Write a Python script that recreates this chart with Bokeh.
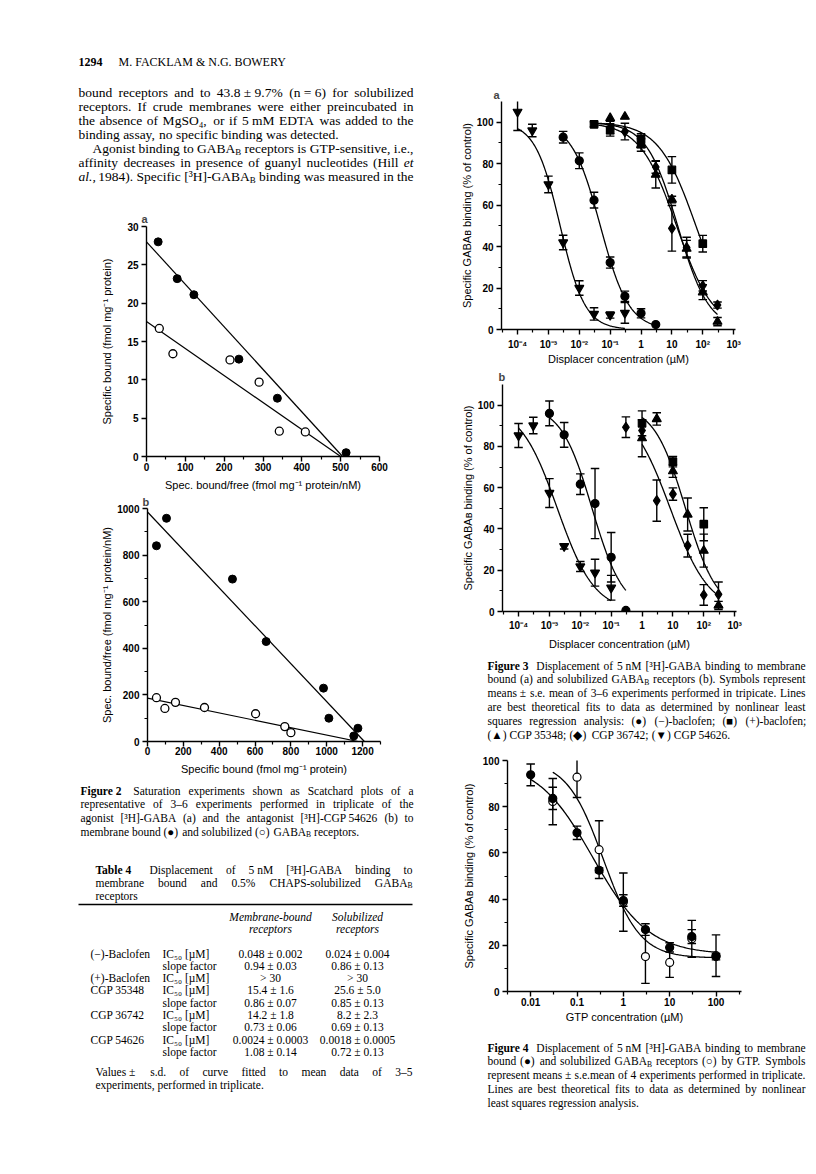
import numpy as np
from bokeh.plotting import figure
from bokeh.layouts import row, column
from bokeh.models import Range1d, FixedTicker, Spacer
from bokeh.core.properties import value
from bokeh.embed import file_html
from bokeh.resources import INLINE

SERIF = "Liberation Serif"
SANS = "Liberation Sans"

# ---------------------------------------------------------------- data
# Figure 2a: [3H]-GABA Scatchard (x = spec. bound/free, y = specific bound)
f2a_mem_free = [30, 79, 122, 238, 337, 514]
f2a_mem_bound = [28.0, 23.2, 21.1, 12.7, 7.6, 0.5]
f2a_sol_free = [33, 68, 215, 290, 342, 409]
f2a_sol_bound = [16.7, 13.4, 12.6, 9.7, 3.3, 3.2]
f2a_mem_line = [28.0, 505]      # [y-intercept, x-intercept]
f2a_sol_line = [17.6, 500]
f2a_xticks = [0, 100, 200, 300, 400, 500, 600]
f2a_xminor = [50, 150, 250, 350, 450, 550]
f2a_yticks = [0, 5, 10, 15, 20, 25, 30]

# Figure 2b: [3H]-CGP 54626 Scatchard (x = specific bound, y = bound/free)
f2b_mem_bound = [50, 106, 474, 662, 982, 1012, 1151, 1174]
f2b_mem_ratio = [840, 958, 697, 429, 229, 100, 24, 57]
f2b_sol_bound = [50, 97, 156, 318, 603, 766, 800]
f2b_sol_ratio = [188, 142, 168, 146, 119, 64, 38]
f2b_mem_line = [985, 1210]
f2b_sol_line = [186, 1175]
f2b_xticks = [0, 200, 400, 600, 800, 1000, 1200]
f2b_xminor = [100, 300, 500, 700, 900, 1100, 1300]
f2b_yticks = [0, 200, 400, 600, 800, 1000]
f2b_yminor = [100, 300, 500, 700, 900]

# Figure 3 (concentrations in uM, binding in % of control)
f3_xticks = [1e-4, 1e-3, 1e-2, 1e-1, 1, 10, 100, 1000]
f3_xlabels = ["10⁻⁴", "10⁻³", "10⁻²", "10⁻¹", "1", "10", "10²", "10³"]
f3_xminor = [10 ** -4.5, 10 ** -3.5, 10 ** -2.5, 10 ** -1.5, 10 ** -0.5, 10 ** 0.5, 10 ** 1.5, 10 ** 2.5]
f3_yticks = [0, 20, 40, 60, 80, 100]
f3_yminor = [10, 30, 50, 70, 90]

# 3a membrane bound
f3a_bac_x = [0.003, 0.01, 0.03, 0.1, 0.3, 1, 3]
f3a_bac_y = [92.8, 81.4, 62.4, 32.3, 16.0, 7.8, 2.4]
f3a_bac_e = [2.8, 3.8, 3.8, 2.7, 2.5, 2.2, 0]
f3a_plus_x = [0.03, 0.1, 1, 10, 100]
f3a_plus_y = [99, 96.3, 91.5, 77, 41.4]
f3a_plus_e = [1.2, 3, 3, 6.4, 4]
f3a_c35_x = [0.1, 0.3, 1, 3, 10, 30, 100, 300]
f3a_c35_y = [102, 102.7, 89, 74.7, 62.7, 39, 18, 3.8]
f3a_c35_e = [0, 0, 3, 6.4, 1.6, 4, 3.6, 2]
f3a_c36_x = [0.1, 0.3, 1, 3, 10, 30, 100, 300]
f3a_c36_y = [97.4, 95.5, 90.7, 78.4, 48.8, 39.5, 21.1, 11.8]
f3a_c36_e = [3, 4, 3, 3, 11, 5, 2.5, 1.5]
f3a_c54_x = [0.0001, 0.0003, 0.001, 0.003, 0.01, 0.03, 0.1, 0.3]
f3a_c54_y = [105, 96, 70, 42, 20, 7.5, 7, 8]
f3a_c54_e = [9, 3, 4, 3.5, 3.5, 3, 1.5, 5]

# 3b solubilized
f3b_bac_x = [0.001, 0.003, 0.01, 0.03, 0.1, 0.3]
f3b_bac_y = [96, 85.6, 61.7, 52.3, 26.3, 0.5]
f3b_bac_e = [6, 6, 5, 17, 12, 0]
f3b_plus_x = [1, 10, 100]
f3b_plus_y = [91.2, 72.6, 42.3]
f3b_plus_e = [6, 2.5, 8]
f3b_c35_x = [1, 3, 10, 30, 100, 300]
f3b_c35_y = [84, 93.3, 68, 47, 29.5, 2.9]
f3b_c35_e = [9, 3, 3, 8, 8, 2]
f3b_c36_x = [0.3, 1, 3, 10, 30, 100, 300]
f3b_c36_y = [89.3, 87.7, 53.7, 56.9, 31.9, 8, 8.3]
f3b_c36_e = [5, 0, 10, 3, 5.5, 5, 6]
f3b_c54_x = [0.0001, 0.0003, 0.001, 0.003, 0.01, 0.03, 0.1]
f3b_c54_y = [85.3, 90.1, 57.4, 31.6, 21.8, 18.8, 11.5]
f3b_c54_e = [5.8, 4, 7, 1.3, 2.4, 6.5, 6]

# fitted curves: [IC50 (uM), slope factor] (from Table 4; (+)-baclofen estimated) and drawn span
f3a_bac_fit, f3a_bac_span = [0.048, 0.94], [0.003, 3]
f3a_plus_fit, f3a_plus_span = [60.0, 0.72], [0.03, 100]
f3a_c35_fit, f3a_c35_span = [15.4, 0.86], [0.03, 300]
f3a_c36_fit, f3a_c36_span = [14.2, 0.73], [0.03, 300]
f3a_c54_fit, f3a_c54_span = [0.0024, 1.08], [0.0001, 0.3]
f3b_bac_fit, f3b_bac_span = [0.024, 0.86], [0.001, 0.3]
f3b_c35_fit, f3b_c35_span = [25.6, 0.85], [1, 300]
f3b_c36_fit, f3b_c36_span = [8.2, 0.69], [1, 300]
f3b_c54_fit, f3b_c54_span = [0.0018, 0.72], [0.0001, 0.1]

# Figure 4: GTP displacement
f4_xticks = [0.01, 0.1, 1, 10, 100]
f4_xlabels = ["0.01", "0.1", "1", "10", "100"]
f4_xminor = [10 ** -2.5, 10 ** -1.5, 10 ** -0.5, 10 ** 0.5, 10 ** 1.5, 10 ** 2.5]
f4_yticks = [0, 20, 40, 60, 80, 100]
f4_yminor = [10, 30, 50, 70, 90]
f4_mem_x = [0.01, 0.03, 0.1, 0.3, 1, 3, 10, 30, 100]
f4_mem_y = [93.8, 83.6, 68.7, 52.5, 39.4, 26.8, 19.1, 23.8, 15.1]
f4_mem_e = [4.7, 4.8, 2.9, 1.0, 2.5, 2.5, 2.0, 3.0, 1.4]
f4_sol_x = [0.03, 0.1, 0.3, 1, 3, 10, 30, 100]
f4_sol_y = [82.2, 92.8, 61.4, 38.7, 15.1, 12.6, 22.8, 15.5]
f4_sol_e = [10, 8.8, 12.5, 12.6, 11.6, 6.5, 8, 9]
f4_mem_fit, f4_mem_span = [0.22, 0.72, 100, 16], [0.01, 100]   # IC50, slope, top, bottom
f4_sol_fit, f4_sol_span = [0.37, 1.1, 100, 14.5], [0.03, 100]

# Table 4
tbl_compound = ["(−)-Baclofen", "", "(+)-Baclofen", "CGP 35348", "", "CGP 36742", "", "CGP 54626", ""]
tbl_param = ["IC₅₀ [µM]", "slope factor", "IC₅₀ [µM]", "IC₅₀ [µM]", "slope factor",
             "IC₅₀ [µM]", "slope factor", "IC₅₀ [µM]", "slope factor"]
tbl_membrane = ["0.048 ± 0.002", "0.94 ± 0.03", "> 30", "15.4 ± 1.6", "0.86 ± 0.07",
                "14.2 ± 1.8", "0.73 ± 0.06", "0.0024 ± 0.0003", "1.08 ± 0.14"]
tbl_solubilized = ["0.024 ± 0.004", "0.86 ± 0.13", "> 30", "25.6 ± 5.0", "0.85 ± 0.13",
                   "8.2 ± 2.3", "0.69 ± 0.13", "0.0018 ± 0.0005", "0.72 ± 0.13"]

# ---------------------------------------------------------------- texts
body_lines = [
    "bound receptors and to 43.8~±~9.7% (n~=~6) for solubilized",
    "receptors. If crude membranes were either preincubated in",
    "the absence of MgSO₄, or if 5~mM EDTA was added to the",
    "binding assay, no specific binding was detected.",
    "Agonist binding to GABA_B receptors is GTP-sensitive, i.e.,",
    "affinity decreases in presence of guanyl nucleotides (Hill /et",
    "/al., 1984). Specific [³H]-GABA_B binding was measured in the",
]
fig2_caption = [
    "*Figure~2 Saturation experiments shown as Scatchard plots of a",
    "representative of 3–6 experiments performed in triplicate of the",
    "agonist [³H]-GABA (a) and the antagonist [³H]-CGP~54626 (b) to",
    "membrane bound (●) and solubilized (○) GABA_B receptors.",
]
table_title = [
    "*Table~4 Displacement of 5~nM [³H]-GABA binding to",
    "membrane bound and 0.5% CHAPS-solubilized GABA_B",
    "receptors",
]
table_note = [
    "Values~± s.d. of curve fitted to mean data of 3–5",
    "experiments, performed in triplicate.",
]
fig3_caption = [
    "*Figure~3 Displacement of 5~nM [³H]-GABA binding to membrane",
    "bound (a) and solubilized GABA_B receptors (b). Symbols represent",
    "means~± s.e. mean of 3–6 experiments performed in tripicate. Lines",
    "are best theoretical fits to data as determined by nonlinear least",
    "squares regression analysis: (●) (−)-baclofen; (■) (+)-baclofen;",
    "(▲) CGP~35348; (◆) CGP~36742; (▼) CGP~54626.",
]
fig4_caption = [
    "*Figure~4 Displacement of 5~nM [³H]-GABA binding to membrane",
    "bound (●) and solubilized GABA_B receptors (○) by GTP. Symbols",
    "represent means~± s.e.mean of 4 experiments performed in triplicate.",
    "Lines are best theoretical fits to data as determined by nonlinear",
    "least squares regression analysis.",
]

# ---------------------------------------------------------------- text helpers
TW = dict(zip("abcdefghijklmnopqrstuvwxyz",
              [444, 500, 444, 500, 444, 333, 500, 500, 278, 278, 500, 278, 778, 500, 500, 500, 500,
               333, 389, 278, 500, 500, 722, 500, 500, 444]))
TW.update(zip("ABCDEFGHIJKLMNOPQRSTUVWXYZ",
              [722, 667, 667, 722, 611, 556, 722, 722, 333, 389, 722, 611, 889, 722, 722, 556, 722,
               667, 556, 611, 722, 722, 944, 722, 722, 611]))
TW.update({c: 500 for c in "0123456789"})
TW.update({" ": 250, ".": 250, ",": 250, ":": 278, ";": 278, "(": 333, ")": 333, "[": 333, "]": 333,
           "-": 333, "%": 833, "±": 564, "=": 564, ">": 564, "/": 278, "–": 500, "−": 564, "³": 300,
           "µ": 500, "'": 333, "&": 778, "●": 700, "○": 700, "■": 700, "▲": 1000, "◆": 1000, "▼": 1000})

BODY = 13.5
SMALL = 11.5


def tw(s, size, style="normal"):
    w = sum(TW.get(c, 500) for c in s) / 1000.0 * size
    return w * (1.06 if style == "bold" else 1.0)


class Texts:
    def __init__(self, p, ox, oy):
        self.p, self.ox, self.oy, self.groups = p, ox, oy, {}

    def add(self, x, y, s, size, style="normal", font=SERIF, align="left"):
        g = self.groups.setdefault((font, size, style, align), ([], [], []))
        g[0].append(x - self.ox)
        g[1].append(y - self.oy)
        g[2].append(s)

    def line(self, text, x0, x1, y, size, justify=True):
        items = []
        for t in text.split():
            style, extra = "normal", 0.0
            if t.startswith("*"):
                style, t, extra = "bold", t[1:], 0.35 * size
            elif t.startswith("/"):
                style, t = "italic", t[1:]
            t = t.replace("~", " ")
            if "_B" in t:
                pre, post = t.split("_B", 1)
                parts = [(pre, 1.0, 0.0), ("B", 0.66, 0.28), (post, 1.0, 0.0)]
            else:
                parts = [(t, 1.0, 0.0)]
            w = sum(tw(s, size * f, style) for s, f, _ in parts)
            items.append((parts, style, w, extra))
        total = sum(w + e for _, _, w, e in items)
        if justify and len(items) > 1:
            gap = max((x1 - x0 - total) / (len(items) - 1), 0.15 * size)
        else:
            gap = 0.25 * size
        x = x0
        for parts, style, w, extra in items:
            xx = x
            for s, f, dy in parts:
                if s:
                    self.add(xx, y + dy * size, s, round(size * f, 2), style)
                xx += tw(s, size * f, style)
            x += w + extra + gap

    def flush(self):
        for (font, size, style, align), (xs, ys, ts) in self.groups.items():
            self.p.text(x=xs, y=ys, text=ts, text_font=value(font), text_font_size=value(f"{size}px"),
                        text_font_style=value(style), text_align=value(align),
                        text_baseline=value("middle"), text_color="black")


def text_fig(w, h):
    p = figure(width=w, height=h, x_range=Range1d(0, w), y_range=Range1d(h, 0),
               x_axis_location=None, y_axis_location=None, min_border=0,
               output_backend="svg", toolbar_location=None)
    p.frame_align = False
    p.outline_line_color = None
    p.xgrid.visible = False
    p.ygrid.visible = False
    return p


def chart(w, h, xr, yr, borders, log=False, title=None, title_offset=0, title_standoff=2):
    l, r, t, b = borders
    p = figure(width=w, height=h, x_range=xr, y_range=yr, x_axis_type="log" if log else "linear",
               min_border_left=l, min_border_right=r, min_border_top=t, min_border_bottom=b,
               output_backend="svg", toolbar_location=None, title=title)
    p.frame_align = False
    p.outline_line_color = None
    p.xgrid.visible = False
    p.ygrid.visible = False
    for ax in (p.xaxis[0], p.yaxis[0]):
        ax.axis_line_width = 1.4
        ax.axis_line_color = "black"
        ax.major_tick_in = 0
        ax.major_tick_out = 5
        ax.major_tick_line_width = 1.4
        ax.major_tick_line_color = "black"
        ax.minor_tick_in = 0
        ax.minor_tick_out = 3
        ax.minor_tick_line_width = 1.2
        ax.minor_tick_line_color = "black"
        ax.major_label_text_font = SANS
        ax.major_label_text_font_size = "10px"
        ax.major_label_text_font_style = "bold"
        ax.major_label_text_color = "black"
        ax.axis_label_text_font = SANS
        ax.axis_label_text_font_size = "11px"
        ax.axis_label_text_font_style = "normal"
        ax.axis_label_text_color = "black"
    if title:
        p.title.text_font = SANS
        p.title.text_font_size = "11px"
        p.title.text_font_style = "bold"
        p.title.align = "left"
        p.title.offset = title_offset
        p.title.standoff = title_standoff
    return p


def hill(x, ic50, n, top=100.0, bottom=0.0):
    return bottom + (top - bottom) / (1.0 + (x / ic50) ** n)


def curve(p, fit, span):
    xs = np.logspace(np.log10(span[0]), np.log10(span[1]), 160)
    p.line(xs, hill(xs, *fit), line_color="black", line_width=1.3)


def points(p, xs, ys, es, marker, size, fill="black"):
    xs, ys, es = np.array(xs, float), np.array(ys, float), np.array(es, float)
    m = es > 0
    lo, hi = ys - es, ys + es
    p.segment(x0=xs[m], y0=lo[m], x1=xs[m], y1=hi[m], line_color="black", line_width=1.4)
    p.scatter(xs[m], lo[m], marker="dash", size=8.5, line_color="black", line_width=1.4)
    p.scatter(xs[m], hi[m], marker="dash", size=8.5, line_color="black", line_width=1.4)
    p.scatter(xs, ys, marker=marker, size=size, fill_color=fill, line_color="black", line_width=1.2)


# ---------------------------------------------------------------- left column
# block 1: running head + body text (page y 8..205)
t1 = text_fig(410, 197)
T = Texts(t1, 8, 8)
T.add(78, 61, "1294", 12, "bold")
T.add(118, 61, "M. FACKLAM & N.G. BOWERY", 12)
for i, ln in enumerate(body_lines):
    x0 = 92 if i == 4 else 78
    T.line(ln, x0, 413, 92 + 14 * i, BODY, justify=(i != 3))
T.flush()

# Figure 2a
f2a = chart(410, 288, Range1d(0, 600), Range1d(0, 30), (138, 39, 21, 36),
            title="a", title_offset=-5, title_standoff=3)
f2a.xaxis.ticker = FixedTicker(ticks=f2a_xticks, minor_ticks=f2a_xminor)
f2a.yaxis.ticker = FixedTicker(ticks=f2a_yticks)
f2a.xaxis.axis_label = "Spec. bound/free (fmol mg⁻¹ protein/nM)"
f2a.yaxis.axis_label = "Specific bound (fmol mg⁻¹ protein)"
f2a.xaxis.major_label_standoff = 1
f2a.xaxis.axis_label_standoff = 5
f2a.yaxis.major_label_standoff = 3
f2a.yaxis.axis_label_standoff = 11
f2a.line([0, f2a_mem_line[1]], [f2a_mem_line[0], 0], line_color="black", line_width=1.2)
f2a.line([0, f2a_sol_line[1]], [f2a_sol_line[0], 0], line_color="black", line_width=1.2)
f2a.scatter(f2a_sol_free, f2a_sol_bound, marker="circle", size=8, fill_color="white",
            line_color="black", line_width=1.3)
f2a.scatter(f2a_mem_free, f2a_mem_bound, marker="circle", size=8, fill_color="black", line_color="black")

# Figure 2b
f2b = chart(410, 287, Range1d(0, 1300), Range1d(0, 1000), (139, 38, 14, 39),
            title="b", title_offset=-5, title_standoff=1)
f2b.xaxis.ticker = FixedTicker(ticks=f2b_xticks, minor_ticks=f2b_xminor)
f2b.yaxis.ticker = FixedTicker(ticks=f2b_yticks, minor_ticks=f2b_yminor)
f2b.xaxis.axis_label = "Specific bound (fmol mg⁻¹ protein)"
f2b.yaxis.axis_label = "Spec. bound/free (fmol mg⁻¹ protein/nM)"
f2b.xaxis.major_label_standoff = 0
f2b.xaxis.axis_label_standoff = 5
f2b.yaxis.major_label_standoff = 3
f2b.yaxis.axis_label_standoff = 1
f2b.line([0, f2b_mem_line[1]], [f2b_mem_line[0], 0], line_color="black", line_width=1.2)
f2b.line([0, f2b_sol_line[1]], [f2b_sol_line[0], 0], line_color="black", line_width=1.2)
f2b.scatter(f2b_sol_bound, f2b_sol_ratio, marker="circle", size=8, fill_color="white",
            line_color="black", line_width=1.3)
f2b.scatter(f2b_mem_bound, f2b_mem_ratio, marker="circle", size=8, fill_color="black", line_color="black")

# block 2: Figure 2 caption + Table 4 (page y 780..1166)
t2 = text_fig(410, 386)
T = Texts(t2, 8, 780)
for i, ln in enumerate(fig2_caption):
    T.line(ln, 80, 413, 790 + 13.7 * i, SMALL, justify=(i != len(fig2_caption) - 1))
for i, ln in enumerate(table_title):
    T.line(ln, 95, 412, 869 + 13 * i, SMALL, justify=(i != len(table_title) - 1))
t2.segment(x0=[78 - 8], y0=[904 - 780], x1=[412 - 8], y1=[904 - 780], line_color="black", line_width=1.3)
for xc, (h1, h2) in ((270, ("Membrane-bound", "receptors")), (357, ("Solubilized", "receptors"))):
    T.add(xc, 916, h1, SMALL, "italic", align="center")
    T.add(xc, 928, h2, SMALL, "italic", align="center")
for i in range(len(tbl_param)):
    y = 953 + 12.3 * i
    if tbl_compound[i]:
        T.add(90, y, tbl_compound[i], SMALL)
    T.add(162, y, tbl_param[i], SMALL)
    T.add(270, y, tbl_membrane[i], SMALL, align="center")
    T.add(357, y, tbl_solubilized[i], SMALL, align="center")
for i, ln in enumerate(table_note):
    T.line(ln, 95, 412, 1071 + 13 * i, SMALL, justify=(i == 0))
T.flush()

# ---------------------------------------------------------------- right column
def fig3_axes(p):
    p.xaxis.ticker = FixedTicker(ticks=f3_xticks, minor_ticks=f3_xminor)
    p.xaxis.major_label_overrides = dict(zip(f3_xticks, f3_xlabels))
    p.yaxis.ticker = FixedTicker(ticks=f3_yticks, minor_ticks=f3_yminor)
    p.xaxis.axis_label = "Displacer concentration (µM)"
    p.yaxis.axis_label = "Specific GABAʙ binding (% of control)"
    p.yaxis.major_label_standoff = 3
    p.yaxis.axis_label_standoff = 1


f3a = chart(390, 359, Range1d(10 ** -4.52, 10 ** 3.06), Range1d(0, 110), (83, 73, 93, 36), log=True,
            title="a", title_offset=-8, title_standoff=2)
fig3_axes(f3a)
f3a.xaxis.major_label_standoff = 4
f3a.xaxis.axis_label_standoff = 0
for fit, span in ((f3a_bac_fit, f3a_bac_span), (f3a_plus_fit, f3a_plus_span), (f3a_c35_fit, f3a_c35_span),
                  (f3a_c36_fit, f3a_c36_span), (f3a_c54_fit, f3a_c54_span)):
    curve(f3a, fit, span)
points(f3a, f3a_c54_x, f3a_c54_y, f3a_c54_e, "inverted_triangle", 9)
points(f3a, f3a_bac_x, f3a_bac_y, f3a_bac_e, "circle", 8)
points(f3a, f3a_c35_x, f3a_c35_y, f3a_c35_e, "triangle", 9)
points(f3a, f3a_c36_x, f3a_c36_y, f3a_c36_e, "diamond", 10)
points(f3a, f3a_plus_x, f3a_plus_y, f3a_plus_e, "square", 7.5)

f3b = chart(390, 285, Range1d(10 ** -4.52, 10 ** 3.06), Range1d(0, 110), (84, 72, 15, 40), log=True,
            title="b", title_offset=-4, title_standoff=3)
fig3_axes(f3b)
f3b.xaxis.major_label_standoff = 3
f3b.xaxis.axis_label_standoff = 4
for fit, span in ((f3b_bac_fit, f3b_bac_span), (f3b_c35_fit, f3b_c35_span),
                  (f3b_c36_fit, f3b_c36_span), (f3b_c54_fit, f3b_c54_span)):
    curve(f3b, fit, span)
points(f3b, f3b_c54_x, f3b_c54_y, f3b_c54_e, "inverted_triangle", 9)
points(f3b, f3b_bac_x, f3b_bac_y, f3b_bac_e, "circle", 8)
points(f3b, f3b_c35_x, f3b_c35_y, f3b_c35_e, "triangle", 9)
points(f3b, f3b_c36_x, f3b_c36_y, f3b_c36_e, "diamond", 10)
points(f3b, f3b_plus_x, f3b_plus_y, f3b_plus_e, "square", 7.5)

# Figure 3 caption (page y 652..745)
t3 = text_fig(390, 93)
T = Texts(t3, 418, 652)
for i, ln in enumerate(fig3_caption):
    T.line(ln, 487, 805, 665 + 13.8 * i, SMALL, justify=(i != len(fig3_caption) - 1))
T.flush()

# Figure 4
f4 = chart(390, 285, Range1d(10 ** -2.5, 10 ** 2.55), Range1d(0, 100), (89, 67, 15, 39), log=True)
f4.xaxis.ticker = FixedTicker(ticks=f4_xticks, minor_ticks=f4_xminor)
f4.xaxis.major_label_overrides = dict(zip(f4_xticks, f4_xlabels))
f4.yaxis.ticker = FixedTicker(ticks=f4_yticks, minor_ticks=f4_yminor)
f4.xaxis.axis_label = "GTP concentration (µM)"
f4.yaxis.axis_label = "Specific GABAʙ binding (% of control)"
f4.xaxis.major_label_standoff = 1
f4.xaxis.axis_label_standoff = 2
f4.yaxis.major_label_standoff = 3
f4.yaxis.axis_label_standoff = 5
curve(f4, f4_mem_fit, f4_mem_span)
curve(f4, f4_sol_fit, f4_sol_span)
points(f4, f4_sol_x, f4_sol_y, f4_sol_e, "circle", 8, fill="white")
points(f4, f4_mem_x, f4_mem_y, f4_mem_e, "circle", 8)

# Figure 4 caption (page y 1030..1166)
t4 = text_fig(390, 136)
T = Texts(t4, 418, 1030)
for i, ln in enumerate(fig4_caption):
    T.line(ln, 487, 805, 1047 + 13.8 * i, SMALL, justify=(i != len(fig4_caption) - 1))
T.flush()

body = row(column(t1, f2a, f2b, t2), column(f3a, f3b, t3, f4, t4))
layout = column(Spacer(width=808, height=8), row(Spacer(width=8, height=1158), body))

with open("out.html", "w") as fh:
    fh.write(file_html(layout, INLINE, title="Facklam & Bowery 1294"))
